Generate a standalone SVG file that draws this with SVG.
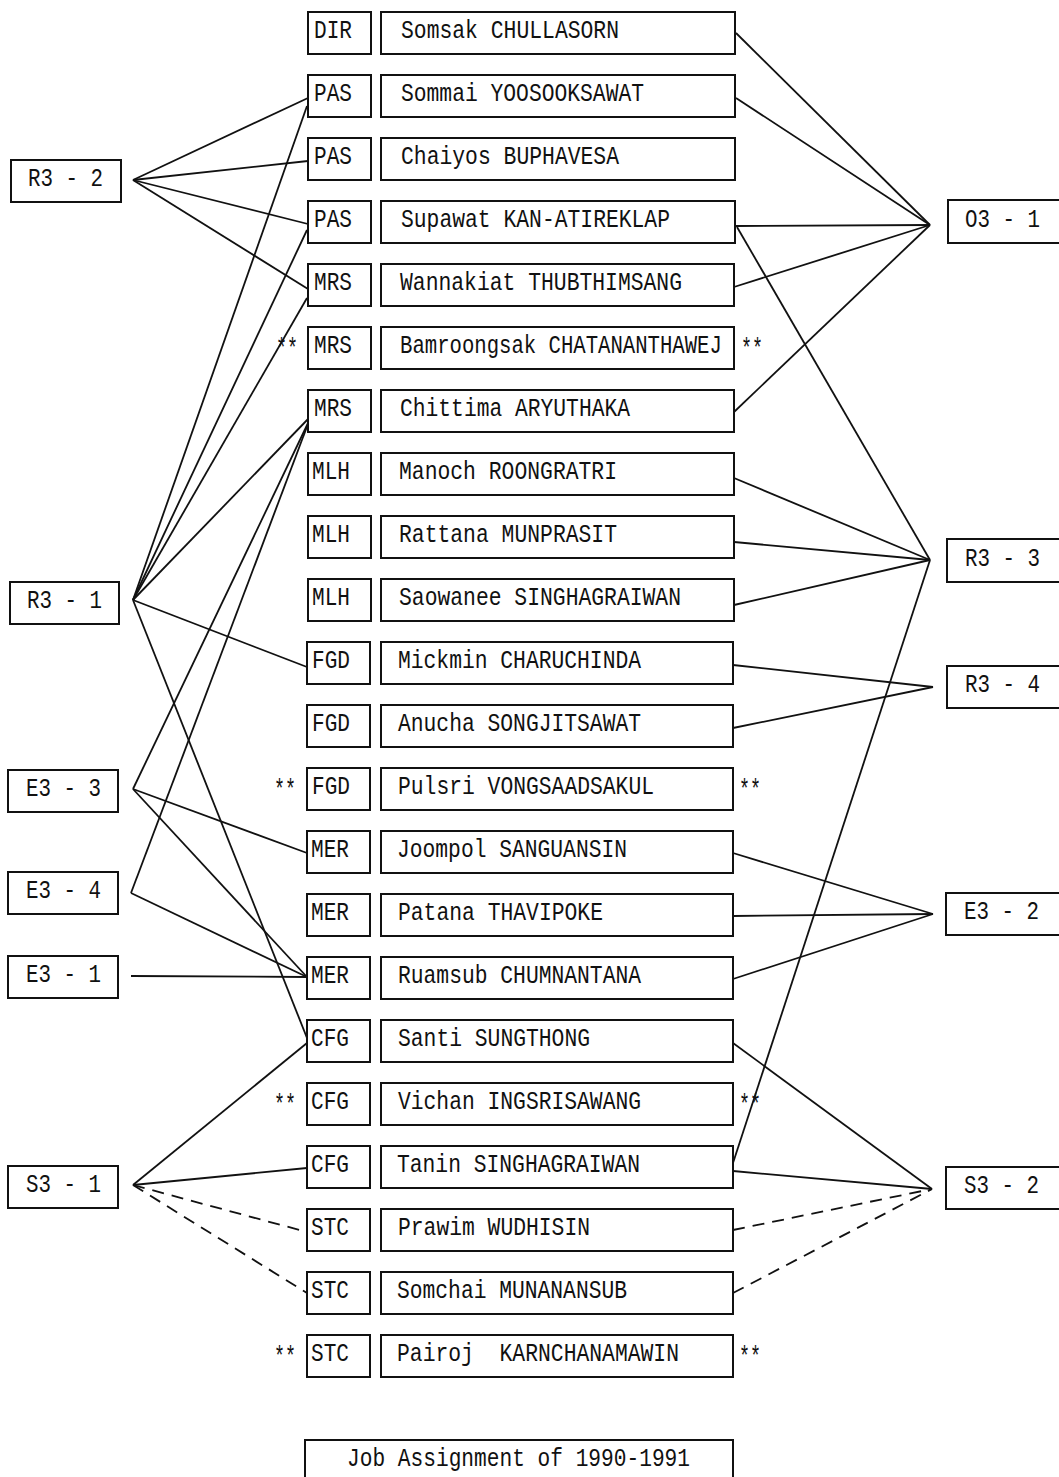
<svg xmlns="http://www.w3.org/2000/svg" width="1059" height="1477" viewBox="0 0 1059 1477">
<style>
.b{fill:#fff;stroke:#111;stroke-width:2}
.t{font-family:"Liberation Mono","DejaVu Sans Mono",monospace;font-size:25px;fill:#111}
.s{font-family:"Liberation Mono","DejaVu Sans Mono",monospace;font-size:28px;fill:#111}
.c line{stroke:#111;stroke-width:1.8;fill:none}
.c line.d{stroke-dasharray:12 8}
</style>
<rect width="1059" height="1477" fill="#fff"/>
<g class="c" id="connectors">
<line x1="133" y1="180" x2="308" y2="98"/>
<line x1="133" y1="180" x2="308" y2="161"/>
<line x1="133" y1="180" x2="308" y2="224"/>
<line x1="133" y1="180" x2="308" y2="289"/>
<line x1="133" y1="600" x2="307" y2="106"/>
<line x1="133" y1="600" x2="307" y2="230"/>
<line x1="133" y1="600" x2="307" y2="298"/>
<line x1="133" y1="600" x2="309" y2="418"/>
<line x1="133" y1="600" x2="307" y2="667"/>
<line x1="133" y1="600" x2="307" y2="1038"/>
<line x1="133" y1="789" x2="309" y2="421"/>
<line x1="133" y1="789" x2="307" y2="853"/>
<line x1="133" y1="789" x2="307" y2="977"/>
<line x1="131" y1="893" x2="308" y2="424"/>
<line x1="131" y1="893" x2="307" y2="977"/>
<line x1="131" y1="976" x2="307" y2="977"/>
<line x1="133" y1="1185" x2="307" y2="1043"/>
<line x1="133" y1="1185" x2="307" y2="1168"/>
<line class="d" x1="133" y1="1185" x2="307" y2="1232"/>
<line class="d" x1="133" y1="1185" x2="307" y2="1293"/>
<line x1="736" y1="33" x2="930" y2="225"/>
<line x1="736" y1="98" x2="930" y2="225"/>
<line x1="736" y1="226" x2="930" y2="225"/>
<line x1="734" y1="287" x2="930" y2="225"/>
<line x1="734" y1="412" x2="930" y2="225"/>
<line x1="737" y1="227" x2="930" y2="560"/>
<line x1="734" y1="478" x2="930" y2="560"/>
<line x1="734" y1="542" x2="930" y2="560"/>
<line x1="734" y1="605" x2="930" y2="560"/>
<line x1="733" y1="1163" x2="930" y2="560"/>
<line x1="733" y1="665" x2="933" y2="687"/>
<line x1="733" y1="728" x2="933" y2="687"/>
<line x1="733" y1="853" x2="933" y2="914"/>
<line x1="733" y1="916" x2="933" y2="914"/>
<line x1="733" y1="979" x2="933" y2="914"/>
<line x1="733" y1="1043" x2="932" y2="1189"/>
<line x1="733" y1="1171" x2="932" y2="1189"/>
<line class="d" x1="733" y1="1230" x2="932" y2="1189"/>
<line class="d" x1="733" y1="1293" x2="932" y2="1189"/>
</g>
<g id="R3-2"><rect class="b" x="11" y="160" width="110" height="42"/><text class="t" x="28" y="186" textLength="75" lengthAdjust="spacingAndGlyphs">R3 - 2</text></g>
<g id="R3-1"><rect class="b" x="10" y="582" width="109" height="42"/><text class="t" x="27" y="608" textLength="75" lengthAdjust="spacingAndGlyphs">R3 - 1</text></g>
<g id="E3-3"><rect class="b" x="8" y="770" width="110" height="42"/><text class="t" x="26" y="796" textLength="75" lengthAdjust="spacingAndGlyphs">E3 - 3</text></g>
<g id="E3-4"><rect class="b" x="8" y="872" width="110" height="42"/><text class="t" x="26" y="898" textLength="75" lengthAdjust="spacingAndGlyphs">E3 - 4</text></g>
<g id="E3-1"><rect class="b" x="8" y="956" width="110" height="42"/><text class="t" x="26" y="982" textLength="75" lengthAdjust="spacingAndGlyphs">E3 - 1</text></g>
<g id="S3-1"><rect class="b" x="8" y="1166" width="110" height="42"/><text class="t" x="26" y="1192" textLength="75" lengthAdjust="spacingAndGlyphs">S3 - 1</text></g>
<g id="O3-1"><rect class="b" x="948" y="200" width="120" height="43"/><text class="t" x="965" y="227" textLength="75" lengthAdjust="spacingAndGlyphs">O3 - 1</text></g>
<g id="R3-3"><rect class="b" x="947" y="539" width="120" height="43"/><text class="t" x="965" y="566" textLength="75" lengthAdjust="spacingAndGlyphs">R3 - 3</text></g>
<g id="R3-4"><rect class="b" x="947" y="666" width="120" height="42"/><text class="t" x="965" y="692" textLength="75" lengthAdjust="spacingAndGlyphs">R3 - 4</text></g>
<g id="E3-2"><rect class="b" x="946" y="893" width="120" height="42"/><text class="t" x="964" y="919" textLength="75" lengthAdjust="spacingAndGlyphs">E3 - 2</text></g>
<g id="S3-2"><rect class="b" x="946" y="1167" width="120" height="42"/><text class="t" x="964" y="1193" textLength="75" lengthAdjust="spacingAndGlyphs">S3 - 2</text></g>
<g id="row0"><rect class="b" x="308" y="12" width="63" height="42"/><text class="t" x="314" y="38" textLength="38" lengthAdjust="spacingAndGlyphs">DIR</text><rect class="b" x="381" y="12" width="354" height="42"/><text class="t" x="401" y="38" textLength="218" lengthAdjust="spacingAndGlyphs">Somsak CHULLASORN</text></g>
<g id="row1"><rect class="b" x="308" y="75" width="63" height="42"/><text class="t" x="314" y="101" textLength="38" lengthAdjust="spacingAndGlyphs">PAS</text><rect class="b" x="381" y="75" width="354" height="42"/><text class="t" x="401" y="101" textLength="243" lengthAdjust="spacingAndGlyphs">Sommai YOOSOOKSAWAT</text></g>
<g id="row2"><rect class="b" x="308" y="138" width="63" height="42"/><text class="t" x="314" y="164" textLength="38" lengthAdjust="spacingAndGlyphs">PAS</text><rect class="b" x="381" y="138" width="354" height="42"/><text class="t" x="401" y="164" textLength="218" lengthAdjust="spacingAndGlyphs">Chaiyos BUPHAVESA</text></g>
<g id="row3"><rect class="b" x="308" y="201" width="63" height="42"/><text class="t" x="314" y="227" textLength="38" lengthAdjust="spacingAndGlyphs">PAS</text><rect class="b" x="381" y="201" width="354" height="42"/><text class="t" x="401" y="227" textLength="269" lengthAdjust="spacingAndGlyphs">Supawat KAN-ATIREKLAP</text></g>
<g id="row4"><rect class="b" x="308" y="264" width="63" height="42"/><text class="t" x="314" y="290" textLength="38" lengthAdjust="spacingAndGlyphs">MRS</text><rect class="b" x="381" y="264" width="353" height="42"/><text class="t" x="400" y="290" textLength="282" lengthAdjust="spacingAndGlyphs">Wannakiat THUBTHIMSANG</text></g>
<g id="row5"><text class="s" x="276" y="357" textLength="22" lengthAdjust="spacingAndGlyphs">**</text><rect class="b" x="308" y="327" width="63" height="42"/><text class="t" x="314" y="353" textLength="38" lengthAdjust="spacingAndGlyphs">MRS</text><rect class="b" x="381" y="327" width="353" height="42"/><text class="t" transform="translate(400 353) scale(0.826 1)">Bamroongsak CHATANANTHAWEJ</text><text class="s" x="741" y="357" textLength="22" lengthAdjust="spacingAndGlyphs">**</text></g>
<g id="row6"><rect class="b" x="308" y="390" width="63" height="42"/><text class="t" x="314" y="416" textLength="38" lengthAdjust="spacingAndGlyphs">MRS</text><rect class="b" x="381" y="390" width="353" height="42"/><text class="t" x="400" y="416" textLength="230" lengthAdjust="spacingAndGlyphs">Chittima ARYUTHAKA</text></g>
<g id="row7"><rect class="b" x="308" y="453" width="63" height="42"/><text class="t" x="312" y="479" textLength="38" lengthAdjust="spacingAndGlyphs">MLH</text><rect class="b" x="381" y="453" width="353" height="42"/><text class="t" x="399" y="479" textLength="218" lengthAdjust="spacingAndGlyphs">Manoch ROONGRATRI</text></g>
<g id="row8"><rect class="b" x="308" y="516" width="63" height="42"/><text class="t" x="312" y="542" textLength="38" lengthAdjust="spacingAndGlyphs">MLH</text><rect class="b" x="381" y="516" width="353" height="42"/><text class="t" x="399" y="542" textLength="218" lengthAdjust="spacingAndGlyphs">Rattana MUNPRASIT</text></g>
<g id="row9"><rect class="b" x="308" y="579" width="63" height="42"/><text class="t" x="312" y="605" textLength="38" lengthAdjust="spacingAndGlyphs">MLH</text><rect class="b" x="381" y="579" width="353" height="42"/><text class="t" x="399" y="605" textLength="282" lengthAdjust="spacingAndGlyphs">Saowanee SINGHAGRAIWAN</text></g>
<g id="row10"><rect class="b" x="307" y="642" width="63" height="42"/><text class="t" x="312" y="668" textLength="38" lengthAdjust="spacingAndGlyphs">FGD</text><rect class="b" x="381" y="642" width="352" height="42"/><text class="t" x="398" y="668" textLength="243" lengthAdjust="spacingAndGlyphs">Mickmin CHARUCHINDA</text></g>
<g id="row11"><rect class="b" x="307" y="705" width="63" height="42"/><text class="t" x="312" y="731" textLength="38" lengthAdjust="spacingAndGlyphs">FGD</text><rect class="b" x="381" y="705" width="352" height="42"/><text class="t" x="398" y="731" textLength="243" lengthAdjust="spacingAndGlyphs">Anucha SONGJITSAWAT</text></g>
<g id="row12"><text class="s" x="274" y="798" textLength="22" lengthAdjust="spacingAndGlyphs">**</text><rect class="b" x="307" y="768" width="63" height="42"/><text class="t" x="312" y="794" textLength="38" lengthAdjust="spacingAndGlyphs">FGD</text><rect class="b" x="381" y="768" width="352" height="42"/><text class="t" x="398" y="794" textLength="256" lengthAdjust="spacingAndGlyphs">Pulsri VONGSAADSAKUL</text><text class="s" x="739" y="798" textLength="22" lengthAdjust="spacingAndGlyphs">**</text></g>
<g id="row13"><rect class="b" x="307" y="831" width="63" height="42"/><text class="t" x="311" y="857" textLength="38" lengthAdjust="spacingAndGlyphs">MER</text><rect class="b" x="381" y="831" width="352" height="42"/><text class="t" x="397" y="857" textLength="230" lengthAdjust="spacingAndGlyphs">Joompol SANGUANSIN</text></g>
<g id="row14"><rect class="b" x="307" y="894" width="63" height="42"/><text class="t" x="311" y="920" textLength="38" lengthAdjust="spacingAndGlyphs">MER</text><rect class="b" x="381" y="894" width="352" height="42"/><text class="t" x="398" y="920" textLength="205" lengthAdjust="spacingAndGlyphs">Patana THAVIPOKE</text></g>
<g id="row15"><rect class="b" x="307" y="957" width="63" height="42"/><text class="t" x="311" y="983" textLength="38" lengthAdjust="spacingAndGlyphs">MER</text><rect class="b" x="381" y="957" width="352" height="42"/><text class="t" x="398" y="983" textLength="243" lengthAdjust="spacingAndGlyphs">Ruamsub CHUMNANTANA</text></g>
<g id="row16"><rect class="b" x="307" y="1020" width="63" height="42"/><text class="t" x="311" y="1046" textLength="38" lengthAdjust="spacingAndGlyphs">CFG</text><rect class="b" x="381" y="1020" width="352" height="42"/><text class="t" x="398" y="1046" textLength="192" lengthAdjust="spacingAndGlyphs">Santi SUNGTHONG</text></g>
<g id="row17"><text class="s" x="274" y="1113" textLength="22" lengthAdjust="spacingAndGlyphs">**</text><rect class="b" x="307" y="1083" width="63" height="42"/><text class="t" x="311" y="1109" textLength="38" lengthAdjust="spacingAndGlyphs">CFG</text><rect class="b" x="381" y="1083" width="352" height="42"/><text class="t" x="398" y="1109" textLength="243" lengthAdjust="spacingAndGlyphs">Vichan INGSRISAWANG</text><text class="s" x="739" y="1113" textLength="22" lengthAdjust="spacingAndGlyphs">**</text></g>
<g id="row18"><rect class="b" x="307" y="1146" width="63" height="42"/><text class="t" x="311" y="1172" textLength="38" lengthAdjust="spacingAndGlyphs">CFG</text><rect class="b" x="381" y="1146" width="352" height="42"/><text class="t" x="397" y="1172" textLength="243" lengthAdjust="spacingAndGlyphs">Tanin SINGHAGRAIWAN</text></g>
<g id="row19"><rect class="b" x="307" y="1209" width="63" height="42"/><text class="t" x="311" y="1235" textLength="38" lengthAdjust="spacingAndGlyphs">STC</text><rect class="b" x="381" y="1209" width="352" height="42"/><text class="t" x="398" y="1235" textLength="192" lengthAdjust="spacingAndGlyphs">Prawim WUDHISIN</text></g>
<g id="row20"><rect class="b" x="307" y="1272" width="63" height="42"/><text class="t" x="311" y="1298" textLength="38" lengthAdjust="spacingAndGlyphs">STC</text><rect class="b" x="381" y="1272" width="352" height="42"/><text class="t" x="397" y="1298" textLength="230" lengthAdjust="spacingAndGlyphs">Somchai MUNANANSUB</text></g>
<g id="row21"><text class="s" x="274" y="1365" textLength="22" lengthAdjust="spacingAndGlyphs">**</text><rect class="b" x="307" y="1335" width="63" height="42"/><text class="t" x="311" y="1361" textLength="38" lengthAdjust="spacingAndGlyphs">STC</text><rect class="b" x="381" y="1335" width="352" height="42"/><text class="t" x="397" y="1361" xml:space="preserve" textLength="282" lengthAdjust="spacingAndGlyphs">Pairoj  KARNCHANAMAWIN</text><text class="s" x="739" y="1365" textLength="22" lengthAdjust="spacingAndGlyphs">**</text></g>
<g id="title"><rect class="b" x="305" y="1440" width="428" height="50"/><text class="t" x="347" y="1466" textLength="343" lengthAdjust="spacingAndGlyphs">Job Assignment of 1990-1991</text></g>
</svg>
